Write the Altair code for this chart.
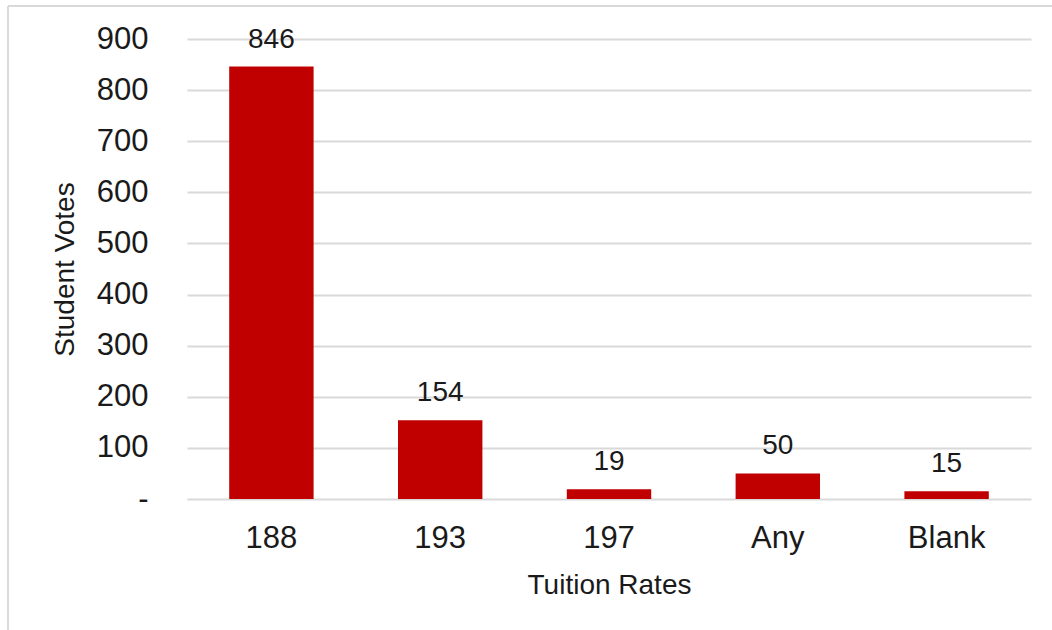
import altair as alt
import pandas as pd

categories = ["188", "193", "197", "Any", "Blank"]
votes = [846, 154, 19, 50, 15]

df = pd.DataFrame({"rate": categories, "votes": votes})

FONT = "Liberation Sans"
W, H = 844, 460

base = alt.Chart(df)

bars = base.mark_bar(color="#C00000").encode(
    x=alt.X(
        "rate:N",
        sort=categories,
        scale=alt.Scale(paddingInner=0.5, paddingOuter=0.25),
        axis=alt.Axis(
            title="Tuition Rates",
            labelAngle=0,
            labelFont=FONT,
            labelFontSize=31,
            labelColor="#1a1a1a",
            labelPadding=24,
            ticks=False,
            domain=False,
            titleFont=FONT,
            titleFontSize=28,
            titleFontWeight="normal",
            titleColor="#1a1a1a",
            titleBaseline="alphabetic",
            titleY=94,
        ),
    ),
    y=alt.Y(
        "votes:Q",
        scale=alt.Scale(domain=[0, 900], nice=False),
        axis=alt.Axis(
            title="Student Votes",
            values=[0, 100, 200, 300, 400, 500, 600, 700, 800, 900],
            labelExpr="datum.value == 0 ? '-\u00a0\u00a0' : datum.label",
            labelFont=FONT,
            labelFontSize=31,
            labelColor="#1a1a1a",
            labelPadding=39,
            ticks=False,
            domain=False,
            grid=True,
            gridColor="#d9d9d9",
            gridWidth=1.8,
            titleFont=FONT,
            titleFontSize=28,
            titleFontWeight="normal",
            titleColor="#1a1a1a",
            titleAngle=270,
            titleAlign="center",
            titleBaseline="alphabetic",
            titleX=-114,
            titleY=H / 2,
        ),
    ),
)

labels = base.mark_text(
    font=FONT, fontSize=28, color="#1a1a1a", baseline="alphabetic", dy=-19
).encode(
    x=alt.X("rate:N", sort=categories),
    y=alt.Y("votes:Q"),
    text=alt.Text("votes:Q"),
)

frame_top = base.mark_rule(color="#d9d9d9", strokeWidth=2).encode(
    x=alt.value(-179), x2=alt.value(900), y=alt.value(-33)
)
frame_left = base.mark_rule(color="#d9d9d9", strokeWidth=2).encode(
    x=alt.value(-179), y=alt.value(-33), y2=alt.value(620)
)

chart = (
    alt.layer(frame_top, frame_left, bars, labels)
    .properties(
        width=W,
        height=H,
        autosize=alt.AutoSizeParams(type="none"),
        padding={"left": 187, "top": 39, "right": 21, "bottom": 131},
        background="white",
    )
    .configure_view(stroke=None)
)

chart.save("out.html", embed_options={"renderer": "svg", "actions": False})
